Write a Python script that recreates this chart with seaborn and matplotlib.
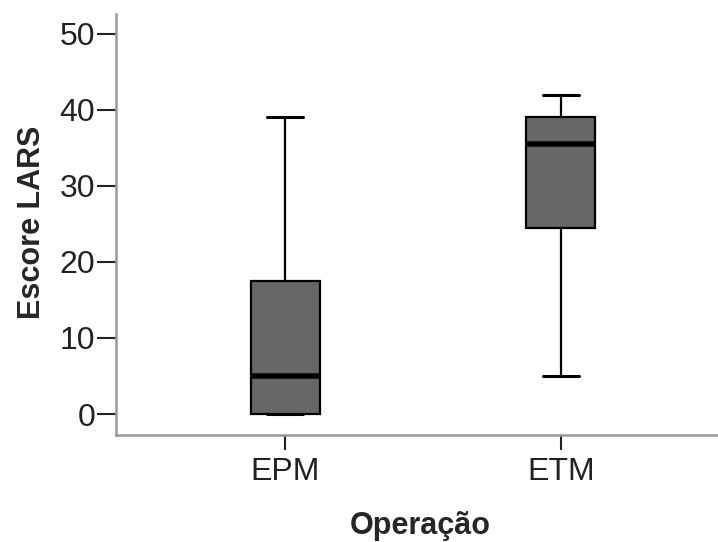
import pandas as pd
import matplotlib
matplotlib.use('Agg')
import matplotlib.pyplot as plt
import seaborn as sns

# five-number summaries (min, Q1, median, Q3, max)
groups = ['EPM', 'ETM']
epm_values = [0, 0, 5, 17.5, 39]
etm_values = [5, 24.5, 35.5, 39, 42]
y_ticks = [0, 10, 20, 30, 40, 50]

data = pd.DataFrame({
    'Operação': ['EPM'] * len(epm_values) + ['ETM'] * len(etm_values),
    'Escore LARS': epm_values + etm_values,
})

sns.set_style('white')
plt.rcParams['font.family'] = ['Liberation Sans', 'DejaVu Sans']

fig = plt.figure(figsize=(7.18, 5.42), dpi=100)
ax = fig.add_axes([0.1616, 0.1974, 0.8384, 0.7766])

sns.boxplot(data=data, x='Operação', y='Escore LARS', order=groups, ax=ax,
            whis=(0, 100), width=0.25, color='#666666', saturation=1,
            linecolor='black', linewidth=1.6,
            boxprops=dict(facecolor='#666666', edgecolor='black'),
            medianprops=dict(color='black', linewidth=4),
            whiskerprops=dict(color='black', linewidth=1.6),
            capprops=dict(color='black', linewidth=2.2),
            capwidths=0.13)

ax.set_xlim(-0.6145, 1.571)
ax.set_ylim(-2.76, 52.6)
ax.set_yticks(y_ticks)
ax.tick_params(axis='y', direction='out', length=14, width=1.5, color='#222222',
               labelsize=23, labelcolor='#222222', pad=1, left=True)
ax.tick_params(axis='x', direction='out', length=11, width=1.5, color='#222222',
               labelsize=23, labelcolor='#222222', pad=5, bottom=True)

for side in ['top', 'right']:
    ax.spines[side].set_visible(False)
for side in ['left', 'bottom']:
    ax.spines[side].set_color('#999999')
    ax.spines[side].set_linewidth(1.8)

ax.set_xlabel('Operação', fontsize=22, fontweight='bold')
ax.set_ylabel('Escore LARS', fontsize=22, fontweight='bold')
ax.xaxis.set_label_coords(0.505, -0.18)
ax.yaxis.set_label_coords(-0.115, 0.506)

fig.savefig('out.png', dpi=100)
